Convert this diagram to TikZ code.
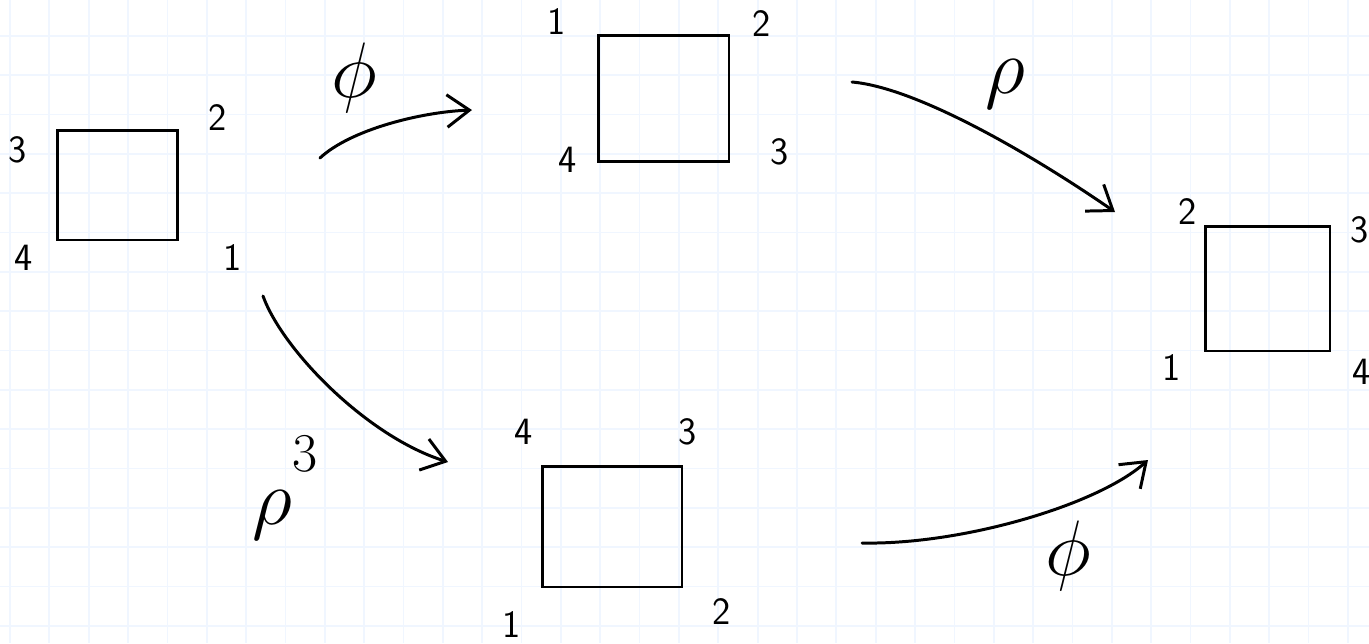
\documentclass[tikz,border=0pt]{standalone}
\usepackage{amsmath}
\usepackage{tikz}
\usetikzlibrary{positioning,arrows.meta}
\definecolor{gridblue}{HTML}{F0F6FF}

\begin{document}
\begin{tikzpicture}[
    x=0.02cm, y=-0.02cm,
    gridline/.style={gridblue, line width=1pt},
    sq/.style={draw, line width=1.7pt, inner sep=0pt},
    lab/.style={font=\sffamily\fontsize{22}{24}\selectfont, inner sep=0pt},
    sym/.style={font=\Huge, scale=1.8, inner sep=0pt},
    arr/.style={-{Straight Barb[length=4.5mm, width=6.5mm, line width=1.7pt]}, line width=1.7pt, line cap=round}
]
\useasboundingbox (0,0) rectangle (1369,643);

\foreach \i in {0,...,34}
    \draw[gridline] ({10+39.35*\i},0) -- ({10+39.35*\i},643);
\foreach \j in {0,...,16}
    \draw[gridline] (0,{-3.65+39.35*\j}) -- (1369,{-3.65+39.35*\j});

\node[sq, minimum width=2.42cm, minimum height=2.2cm] (sqA) at (117.5,185) {};
\node[sq, minimum width=2.62cm, minimum height=2.54cm] (sqB) at (663.5,98.5) {};
\node[sq, minimum width=2.5cm, minimum height=2.5cm] (sqC) at (1267.5,288.5) {};
\node[sq, minimum width=2.8cm, minimum height=2.42cm] (sqD) at (612,526.5) {};

% corner numbers
\node[lab] (a3) at (18,150) {3};
\node[lab] (a2) at (218,118) {2};
\node[lab] (a4) at (24,258) {4};
\node[lab] (a1) at (233,258) {1};

\node[lab] (b1) at (557,22) {1};
\node[lab] (b2) at (762,24) {2};
\node[lab] (b4) at (568,160) {4};
\node[lab] (b3) at (780,152) {3};

\node[lab] (c2) at (1188,212) {2};
\node[lab] (c3) at (1360,230) {3};
\node[lab] (c1) at (1172,368) {1};
\node[lab] (c4) at (1362,372) {4};

\node[lab] (d4) at (524,432) {4};
\node[lab] (d3) at (688,432) {3};
\node[lab] (d1) at (512,625) {1};
\node[lab] (d2) at (722,612) {2};

\coordinate (phiS) at (320,158);
\coordinate (phiE) at (472,110);
\coordinate (rhoS) at (852,82);
\coordinate (rhoE) at (1115,212);
\coordinate (rhoTS) at (263,296);
\coordinate (rhoTE) at (448,462);
\coordinate (phiTS) at (862,543);
\coordinate (phiTE) at (1148,460);

\draw[arr] (phiS) .. controls +(30,-28) and +(-52,2) .. (phiE);
\draw[arr] (rhoS) .. controls +(68,6) and +(-75,-52) .. (rhoE);
\draw[arr] (rhoTS) .. controls +(20,55) and +(-80,-25) .. (rhoTE);
\draw[arr] (phiTS) .. controls +(100,2) and +(-50,45) .. (phiTE);

\node[sym] (phiA) at (354,78) {$\phi$};
\node[sym] (rhoB) at (1005,84) {$\rho$};
\node[sym, anchor=base west] (rhoC) at (252,524) {$\rho^{\raisebox{0.3em}{$\scriptscriptstyle 3$}}$};
\node[sym] (phiD) at (1068,556) {$\phi$};

\end{tikzpicture}
\end{document}
